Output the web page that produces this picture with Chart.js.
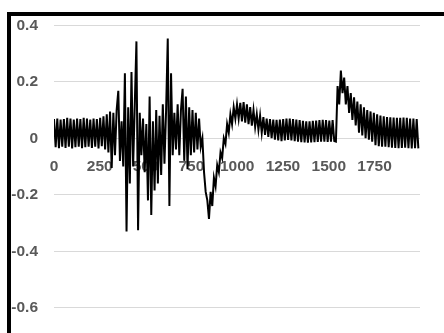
<!DOCTYPE html>
<html>
<head>
<meta charset="utf-8">
<script src="https://cdn.jsdelivr.net/npm/chart.js@4/dist/chart.umd.min.js"></script>
<style>
  html, body { margin: 0; padding: 0; background: #fff; overflow: hidden; }
  #wrap { position: relative; width: 444px; height: 333px; }
  #frame {
    position: absolute; left: 7px; top: 12px; width: 500px; height: 400px;
    border: 4px solid #000; pointer-events: none;
  }
  canvas { position: absolute; left: 0; top: 0; }
</style>
</head>
<body>
<div id="wrap">
  <canvas id="myChart" width="444" height="333"></canvas>
  <div id="frame"></div>
</div>
<script>
	//SAMPLE SPACING ON THE X AXIS (ONE VALUE EVERY HALF SWING)
	const xStep = 9;

	//SIGNAL VALUES, ONE PER SAMPLE
	const signal = [
		0.068, -0.032, 0.07, -0.035, 0.066, -0.03, 0.068, -0.034, 0.072, -0.03,
		0.07, -0.036, 0.066, -0.032, 0.07, -0.03, 0.068, -0.035, 0.072, -0.032,
		0.07, -0.03, 0.066, -0.034, 0.07, -0.03, 0.068, -0.036, 0.072, -0.028,
		0.078, -0.04, 0.085, -0.05, 0.095, -0.105, 0.09, -0.06, 0.1, 0.168,
		-0.08, 0.06, -0.1, 0.23, -0.33, 0.11, -0.16, 0.235, -0.1, 0.12,
		0.343, -0.326, 0.09, -0.06, 0.07, -0.12, 0.05, -0.22, 0.148, -0.272,
		0.06, -0.185, 0.1, -0.16, 0.08, -0.13, 0.12, -0.09, 0.1, 0.353,
		-0.24, 0.23, -0.06, 0.09, -0.04, 0.12, -0.06, 0.1, 0.175, -0.08,
		0.148, -0.11, 0.11, -0.06, 0.1, -0.05, 0.09, -0.04, 0.07, -0.03,
		0.0, -0.12, -0.19, -0.22, -0.286, -0.19, -0.24, -0.14, -0.17, -0.095,
		-0.12, -0.05, -0.07, 0.0, -0.02, 0.05, 0.02, 0.085, 0.05, 0.11,
		0.07, 0.12, 0.07, 0.125, 0.06, 0.128, 0.055, 0.12, 0.05, 0.11,
		0.045, 0.1, 0.04, 0.085, 0.03, 0.08, 0.02, 0.075, 0.012, 0.07,
		0.005, 0.068, 0.0, 0.066, -0.005, 0.065, -0.008, 0.066, -0.01, 0.068,
		-0.008, 0.07, -0.006, 0.07, -0.008, 0.068, -0.01, 0.066, -0.012, 0.064,
		-0.014, 0.062, -0.015, 0.06, -0.016, 0.06, -0.015, 0.062, -0.014, 0.063,
		-0.013, 0.064, -0.012, 0.065, -0.012, 0.064, -0.013, 0.063, -0.012, 0.064,
		-0.01, -0.012, 0.185, 0.12, 0.24, 0.16, 0.215, 0.12, 0.185, 0.09,
		0.16, 0.065, 0.145, 0.045, 0.13, 0.02, 0.12, 0.01, 0.11, 0.0,
		0.1, -0.005, 0.095, -0.012, 0.09, -0.025, 0.085, -0.028, 0.08, -0.03,
		0.078, -0.03, 0.075, -0.032, 0.074, -0.033, 0.073, -0.034, 0.072, -0.035,
		0.072, -0.034, 0.073, -0.033, 0.072, -0.035, 0.07, -0.036, 0.07, -0.035,
		0.068, -0.036
	];

	//AXIS TICKS
	const xTicks = [0, 250, 500, 750, 1000, 1250, 1500, 1750];
	const yTicks = [-0.6, -0.4, -0.2, 0, 0.2, 0.4];

	const points = signal.map((v, i) => ({ x: i * xStep, y: v }));

	const labelFont = { family: "'Liberation Sans', Arial, sans-serif", size: 15.5, weight: 'bold' };

	const config = {
		type: 'line',
		data: {
			datasets: [{
				data: points,
				borderColor: '#000000',
				borderWidth: 2,
				pointRadius: 0,
				tension: 0,
				fill: false
			}]
		},
		options: {
			responsive: false,
			animation: false,
			layout: { padding: { left: 0, right: 24, top: 24, bottom: 12 } },
			plugins: { legend: { display: false }, tooltip: { enabled: false } },
			scales: {
				x: {
					type: 'linear',
					position: { y: 0 },
					min: 0,
					max: 1998,
					grid: { display: false },
					border: { display: false },
					afterBuildTicks: scale => { scale.ticks = xTicks.map(v => ({ value: v })); },
					ticks: {
						font: labelFont,
						color: '#595959',
						padding: 11,
						maxRotation: 0,
						autoSkip: false,
						callback: v => String(v)
					}
				},
				y: {
					min: -0.6,
					max: 0.4,
					grid: { color: '#d9d9d9', lineWidth: 1, drawTicks: false },
					border: { display: false },
					afterBuildTicks: scale => { scale.ticks = yTicks.map(v => ({ value: v })); },
					afterFit: scale => { scale.width = 54; },
					ticks: {
						font: labelFont,
						color: '#595959',
						padding: 16,
						callback: v => String(Math.round(v * 10) / 10)
					}
				}
			}
		}
	};

	const myChart = new Chart(document.getElementById('myChart'), config);
</script>
</body>
</html>
